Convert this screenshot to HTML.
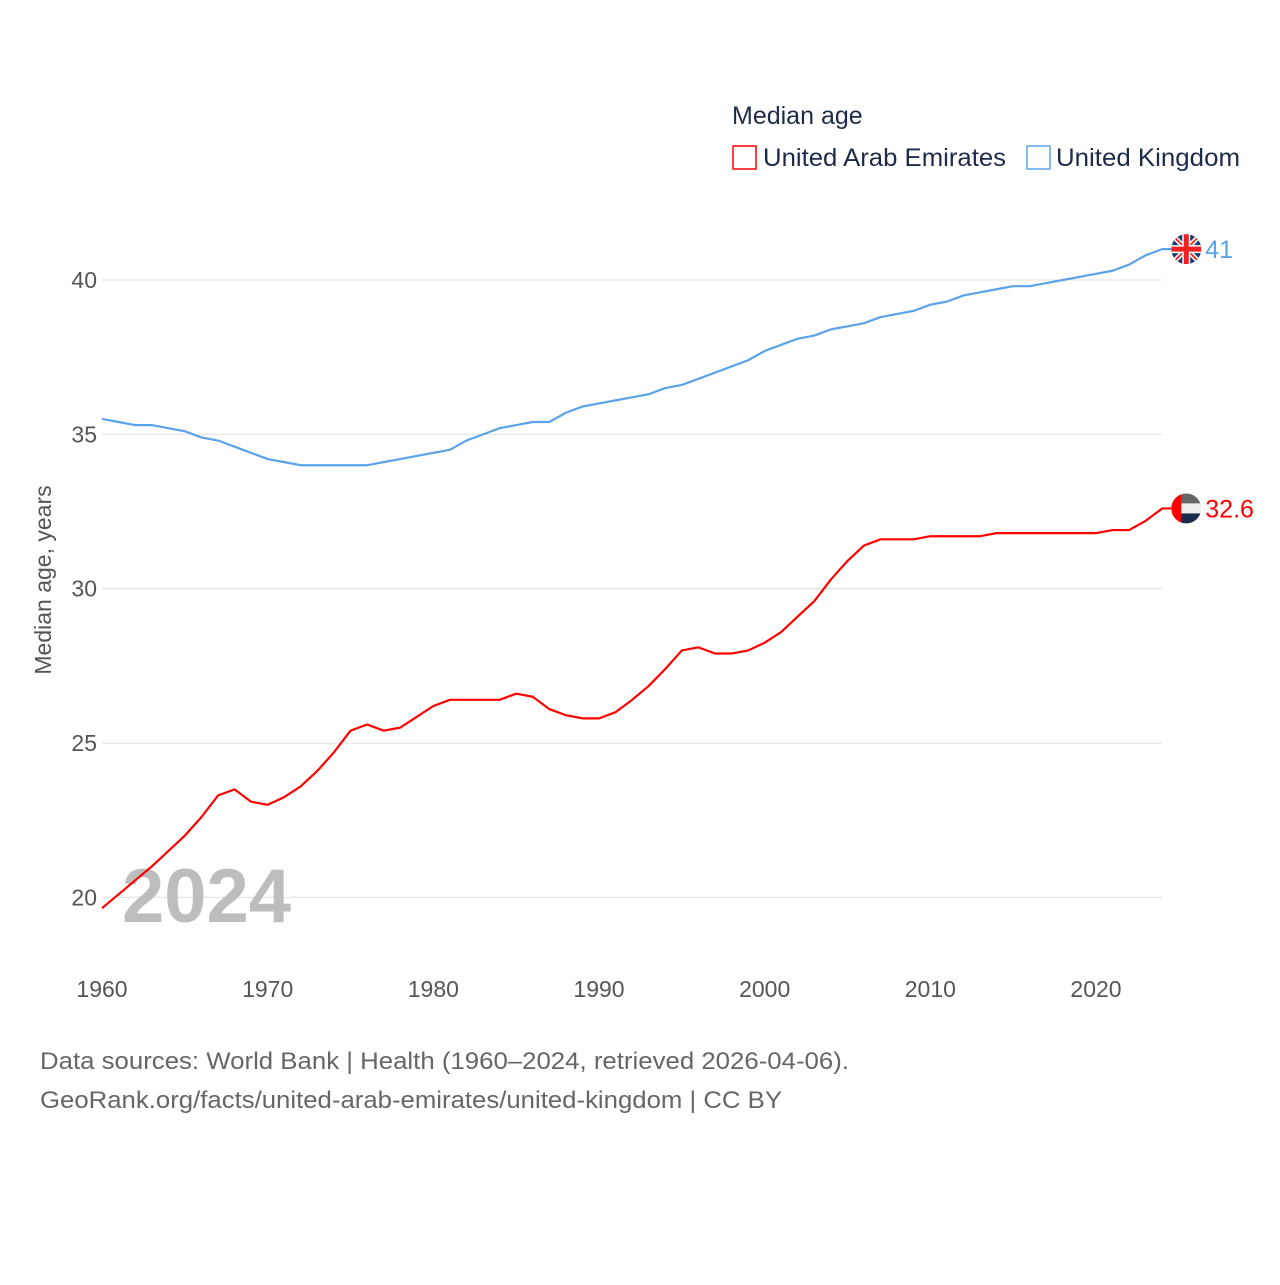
<!DOCTYPE html>
<html><head><meta charset="utf-8"><style>
body{margin:0;background:#fff;}
svg text{font-family:"Liberation Sans",sans-serif;}
</style></head><body>
<svg id="chart" width="1280" height="1280" xmlns="http://www.w3.org/2000/svg">
<text x="732" y="124" font-size="25" fill="#1d2b4a">Median age</text>
<g><rect x="733" y="146" width="23" height="23" fill="none" stroke="#ff0000" stroke-width="1.5"/><text x="763" y="166" font-size="25" fill="#1d2b4a" textLength="243" lengthAdjust="spacingAndGlyphs">United Arab Emirates</text></g>
<g><rect x="1027" y="146" width="23" height="23" fill="none" stroke="#5ba3e8" stroke-width="1.5"/><text x="1056" y="166" font-size="25" fill="#1d2b4a" textLength="184" lengthAdjust="spacingAndGlyphs">United Kingdom</text></g>
<g id="grid"></g>
<g id="axes"></g>
<text x="122" y="922" font-size="76" font-weight="bold" fill="#bdbdbd">2024</text>
<g id="series"></g>
<text transform="translate(51,580) rotate(-90)" text-anchor="middle" font-size="23" fill="#555">Median age, years</text>
<text x="40" y="1069" font-size="24" fill="#666" textLength="809" lengthAdjust="spacingAndGlyphs">Data sources: World Bank | Health (1960–2024, retrieved 2026-04-06).</text>
<text x="40" y="1108" font-size="24" fill="#666" textLength="742" lengthAdjust="spacingAndGlyphs">GeoRank.org/facts/united-arab-emirates/united-kingdom | CC BY</text>
</svg>
<script>
const years=[];for(let y=1960;y<=2024;y++)years.push(y);
const uae=[19.65,20.1,20.55,21.0,21.5,22.0,22.6,23.3,23.5,23.1,23.0,23.25,23.6,24.1,24.7,25.4,25.6,25.4,25.5,25.85,26.2,26.4,26.4,26.4,26.4,26.6,26.5,26.1,25.9,25.8,25.8,26.0,26.4,26.85,27.4,28.0,28.1,27.9,27.9,28.0,28.25,28.6,29.1,29.6,30.3,30.9,31.4,31.6,31.6,31.6,31.7,31.7,31.7,31.7,31.8,31.8,31.8,31.8,31.8,31.8,31.8,31.9,31.9,32.2,32.6];
const uk=[35.5,35.4,35.3,35.3,35.2,35.1,34.9,34.8,34.6,34.4,34.2,34.1,34.0,34.0,34.0,34.0,34.0,34.1,34.2,34.3,34.4,34.5,34.8,35.0,35.2,35.3,35.4,35.4,35.7,35.9,36.0,36.1,36.2,36.3,36.5,36.6,36.8,37.0,37.2,37.4,37.7,37.9,38.1,38.2,38.4,38.5,38.6,38.8,38.9,39.0,39.2,39.3,39.5,39.6,39.7,39.8,39.8,39.9,40.0,40.1,40.2,40.3,40.5,40.8,41.0];
const yTicks=[20,25,30,35,40];
const xTicks=[1960,1970,1980,1990,2000,2010,2020];
const NS="http://www.w3.org/2000/svg";
const X=y=>102+(y-1960)*(994/60);
const Y=v=>280+(40-v)*30.87;
function mk(t,a,p){const e=document.createElementNS(NS,t);for(const k in a)e.setAttribute(k,a[k]);p.appendChild(e);return e;}
const grid=document.getElementById('grid'),axes=document.getElementById('axes'),ser=document.getElementById('series');
yTicks.forEach(v=>{
 const l=mk('line',{x1:102,x2:1162,y1:Y(v),y2:Y(v),stroke:'#e6e6e6','stroke-width':1.3},grid);
 
 
 const t=mk('text',{x:97,y:Y(v)+8,'text-anchor':'end','font-size':23,fill:'#555'},axes);t.textContent=v;
 
 
});
xTicks.forEach(v=>{
 const t=mk('text',{x:X(v),y:997,'text-anchor':'middle','font-size':23,fill:'#555'},axes);t.textContent=v;
 
 
});
const last=years.length-1,fx=X(years[last])+24;
function line(d,c,name){
 const pts=d.map((v,i)=>X(years[i])+','+Y(v));
 pts.push((X(years[last])+10)+','+Y(d[last]));
 const p=mk('polyline',{points:pts.join(' '),fill:'none',stroke:c,'stroke-width':2.2,'stroke-linejoin':'round'},ser);
 
 
}
line(uk,'#5ba3e8','uk-line');
line(uae,'#ff0000','uae-line');
// UK flag
let g=mk('g',{},ser);


let cy=Y(uk[last]);
let cp=mk('clipPath',{id:'cu'},g);mk('circle',{cx:fx,cy:cy,r:15},cp);
let gg=mk('g',{'clip-path':'url(#cu)'},g);
mk('rect',{x:fx-15,y:cy-15,width:30,height:30,fill:'#1d3a6e'},gg);
mk('line',{x1:fx-15,y1:cy-15,x2:fx+15,y2:cy+15,stroke:'#fff','stroke-width':5},gg);
mk('line',{x1:fx+15,y1:cy-15,x2:fx-15,y2:cy+15,stroke:'#fff','stroke-width':5},gg);
mk('line',{x1:fx-15,y1:cy-15,x2:fx+15,y2:cy+15,stroke:'#e22',"stroke-width":1.8},gg);
mk('line',{x1:fx+15,y1:cy-15,x2:fx-15,y2:cy+15,stroke:'#e22',"stroke-width":1.8},gg);
mk('rect',{x:fx-15,y:cy-4,width:30,height:8,fill:'#fff'},gg);
mk('rect',{x:fx-4,y:cy-15,width:8,height:30,fill:'#fff'},gg);
mk('rect',{x:fx-15,y:cy-2.5,width:30,height:5,fill:'#e22'},gg);
mk('rect',{x:fx-2.5,y:cy-15,width:5,height:30,fill:'#e22'},gg);
let t=mk('text',{x:fx+19,y:cy+9,'font-size':25,fill:'#5ba3e8'},ser);t.textContent=uk[last];


// UAE flag
g=mk('g',{},ser);


cy=Y(uae[last]);
cp=mk('clipPath',{id:'ca'},g);mk('circle',{cx:fx,cy:cy,r:15},cp);
gg=mk('g',{'clip-path':'url(#ca)'},g);
mk('rect',{x:fx-15,y:cy-15,width:30,height:10,fill:'#666'},gg);
mk('rect',{x:fx-15,y:cy-5,width:30,height:10,fill:'#eee'},gg);
mk('rect',{x:fx-15,y:cy+5,width:30,height:10,fill:'#1d2b4a'},gg);
mk('rect',{x:fx-15,y:cy-15,width:10,height:30,fill:'#ff0000'},gg);
t=mk('text',{x:fx+19,y:cy+9,'font-size':25,fill:'#ff0000'},ser);t.textContent=uae[last];


</script>
</body></html>
